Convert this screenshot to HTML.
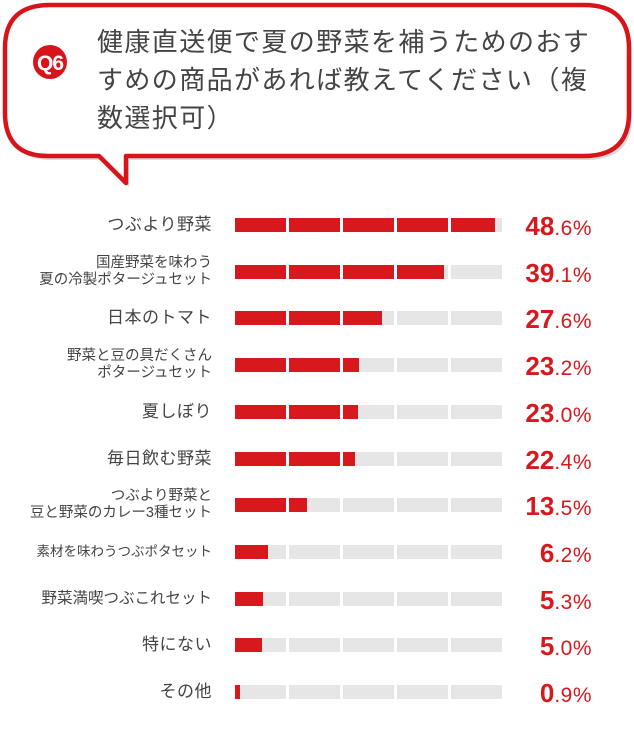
<!DOCTYPE html>
<html><head><meta charset="utf-8"><style>
body{margin:0;background:#fff;width:634px;height:750px;position:relative;overflow:hidden;font-family:"Liberation Sans","Noto Sans CJK JP",sans-serif}
.q{position:absolute;left:97px;font-size:26px;color:#444;line-height:38px;top:23px;white-space:nowrap;letter-spacing:1.4px}
.lab{position:absolute;right:422px;text-align:right;color:#444;font-size:17px;line-height:17px;white-space:nowrap;letter-spacing:0.5px}
.bar{position:absolute;left:235px;height:14px;width:267px}
.seg{position:absolute;top:0;height:14px;width:51px;background:#e6e6e6}
.fill{position:absolute;top:0;left:0;height:14px;background:#d7181d}
.pct{position:absolute;right:42px;color:#d7181d;font-family:"Liberation Sans",sans-serif;font-weight:bold;font-size:26px;line-height:26px;white-space:nowrap}
.pct span{font-size:21px;font-weight:normal;letter-spacing:0.5px}
</style></head><body>
<svg width="634" height="200" style="position:absolute;left:0;top:0">
<path d="M50 5 H584 Q629 5 629 48 V113 Q629 156 584 156 H126 V183 L99 156 H48 Q5 156 5 113 V48 Q5 5 50 5 Z" fill="#d9d9d9" transform="translate(3,4)"/>
<path d="M50 5 H584 Q629 5 629 48 V113 Q629 156 584 156 H126 V183 L99 156 H48 Q5 156 5 113 V48 Q5 5 50 5 Z" fill="#fff" stroke="#d7141a" stroke-width="4.5" stroke-linejoin="round"/>
<circle cx="50" cy="62" r="17" fill="#d7141a"/>
<text x="50" y="70" text-anchor="middle" fill="#fff" font-family="Liberation Sans" font-weight="bold" font-size="21" letter-spacing="-1">Q6</text>
</svg>
<div class="q">健康直送便で夏の野菜を補うためのおす<br>すめの商品があれば教えてください（複<br>数選択可）</div>
<div id="rows"></div>
<script>
var d=[["つぶより野菜",48.6],["国産野菜を味わう<br>夏の冷製ポタージュセット",39.1],["日本のトマト",27.6],["野菜と豆の具だくさん<br>ポタージュセット",23.2],["夏しぼり",23.0],["毎日飲む野菜",22.4],["つぶより野菜と<br>豆と野菜のカレー3種セット",13.5],["素材を味わうつぶポタセット",6.2],["野菜満喫つぶこれセット",5.3],["特にない",5.0],["その他",0.9]];
var h="";
d.forEach(function(r,i){
 var c=225+i*46.7;var two=r[0].indexOf("<br>")>0;var long=r[0].length>10&&!two;
 var st='top:'+(c-(two?17:9))+'px;';
 if(two)st+='font-size:14.5px;letter-spacing:0;';
 if(long){var fs=r[0].length>12?13.5:15.5;st='top:'+(c-9)+'px;font-size:'+fs+'px;letter-spacing:0;';}
 h+='<div class="lab" style="'+st+'">'+r[0]+'</div>';
 h+='<div class="bar" style="top:'+(c-7)+'px">';
 for(var k=0;k<5;k++)h+='<div class="seg" style="left:'+(k*54)+'px"></div>';
 var w=r[1]/50*267;
 h+='<div class="fill" style="width:'+w+'px"></div>';
 for(var k=1;k<5;k++){var x=k*54-3;if(x<w)h+='<div style="position:absolute;top:0;height:14px;width:3px;background:#fff;left:'+x+'px"></div>';}
 h+='</div>';
 var s=r[1].toFixed(1).split(".");
 h+='<div class="pct" style="top:'+(c-12)+'px">'+s[0]+'<span>.'+s[1]+'%</span></div>';
});
document.getElementById("rows").innerHTML=h;
</script>
</body></html>
